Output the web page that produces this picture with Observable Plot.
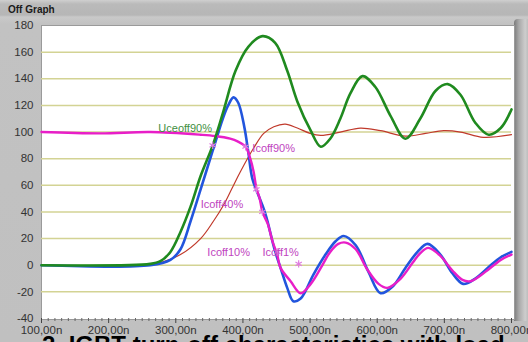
<!DOCTYPE html>
<html>
<head>
<meta charset="utf-8">
<script src="https://cdn.jsdelivr.net/npm/d3@7"></script>
<script src="https://cdn.jsdelivr.net/npm/@observablehq/plot@0.6"></script>
<style>
  html, body { margin: 0; padding: 0; width: 528px; height: 342px; overflow: hidden; }
  body { background: linear-gradient(to bottom, #cfcfcf 0px, #bababa 4px, #b6b6b6 15px, #c9c9c9 17px, #c2c2c2 24px, #c0c0c0 100%); position: relative; font-family: "Liberation Sans", Arial, sans-serif; }
  #title { position: absolute; left: 8px; top: 4px; font: bold 10px "Liberation Sans", Arial, sans-serif; color: #1a1a1a; }
  #bar { position: absolute; left: 514px; top: 19px; width: 14px; height: 302px; background: linear-gradient(to right, #7a7a7a, #a9a9a9 35%, #cdcdcd 80%, #bdbdbd); border-top-left-radius: 4px; }
  #chart { position: absolute; left: 0; top: 0; }
  #caption { position: absolute; left: 42px; top: 336px; font: bold 24px/18px "Liberation Sans", Arial, sans-serif; color: #000; white-space: nowrap; }
</style>
</head>
<body>
<div id="bar"></div>
<div id="chart"></div>
<div id="title">Off Graph</div>
<div id="caption">2. IGBT turn-off characteristics with load</div>
<script>
// ---- data (time in ns, value in %) ----
const uceT = [100, 262, 277, 292, 307, 322, 337, 355, 370, 389, 408, 429, 448, 466, 481, 501, 516, 530, 545, 560, 578, 597, 620, 642, 664, 687, 705, 724, 746, 766, 784, 800];
const uceV = [0, 1, 3, 10, 25, 44, 67, 90, 114, 146, 164, 172, 167, 146, 123, 101, 89, 95, 110, 129, 142, 134, 112, 95, 110, 131, 136, 128, 107, 98, 103, 117];

const icBT = [100, 262, 292, 307, 322, 337, 355, 370, 378, 386, 393, 402, 408, 414, 422, 429, 435, 441, 447, 456, 466, 475, 486, 505, 523, 538, 550, 568, 587, 605, 623, 642, 660, 675, 694, 712, 728, 746, 769, 784, 800];
const icBV = [0, 0, 4, 12, 33, 57, 86, 110, 120, 126, 122, 104, 85, 65, 54, 45, 36, 24, 12, -2, -17, -27, -25, -7, 8, 18, 22, 15, -5, -21, -16, -2, 10, 16, 8, -6, -14, -10, 0, 6, 10];

const icT = [100, 188, 262, 337, 359, 381, 392, 404, 411, 416, 420, 425, 429, 437, 444, 451, 456, 471, 486, 501, 516, 530, 542, 553, 568, 585, 602, 615, 635, 653, 664, 676, 694, 712, 727, 739, 761, 784, 800];
const icV = [100, 99, 100, 98, 97, 95, 93, 89, 80, 70, 58, 50, 40, 31, 18, 8, -2, -12, -21, -14, -2, 10, 16, 17, 12, -3, -14, -17, -10, 2, 9, 13, 7, -4, -11, -12, -5, 4, 8];

const refT = [100, 247, 277, 307, 337, 356, 371, 384, 396, 416, 431, 446, 463, 481, 500, 516, 545, 575, 605, 642, 672, 699, 724, 758, 800];
const refV = [0, 0, 2, 8, 20, 33, 45, 58, 70, 88, 99, 104, 106, 103, 99, 97.5, 100, 103, 101, 97, 99, 101, 100, 96, 98];

const markT = [355, 404, 420, 429, 451, 483];
const markV = [90, 89, 57, 40, 10, 1];

const labelText = ["Uceoff90%", "Icoff90%", "Icoff40%", "Icoff10%", "Icoff1%"];
const labelT = [274, 414, 337, 347, 429];
const labelV = [102.6, 87.6, 45.6, 9.5, 9.5];
const labelColor = ["#3f8f3f", "#c044c0", "#c044c0", "#c044c0", "#c044c0"];

const yTicks = [-40, -20, 0, 20, 40, 60, 80, 100, 120, 140, 160, 180];
const gridY = [-20, 0, 20, 40, 60, 80, 100, 120, 140, 160];
const xTicks = [100, 200, 300, 400, 500, 600, 700, 800];
const xMinor = d3.range(110, 800, 10).filter(d => d % 100 !== 0);

const toPts = (T, V) => T.map((t, i) => ({t, v: V[i]}));
const uce = toPts(uceT, uceV), icB = toPts(icBT, icBV), ic = toPts(icT, icV), ref = toPts(refT, refV);
const marks = toPts(markT, markV);
const labels = labelText.map((s, i) => ({s, t: labelT[i], v: labelV[i], c: labelColor[i]}));

const chart = Plot.plot({
  width: 528,
  height: 336,
  marginLeft: 41,
  marginRight: 17,
  marginTop: 25,
  marginBottom: 18,
  style: {background: "transparent", fontFamily: "Liberation Sans, Arial, sans-serif", fontSize: "11.5px", color: "#333"},
  x: {domain: [100, 800]},
  y: {domain: [-40, 180]},
  marks: [
    Plot.frame({fill: "white", stroke: "#9a9a9a", insetRight: -3, insetBottom: -1}),
    Plot.ruleY(gridY, {stroke: "#d3d394", strokeWidth: 1.5}),
    Plot.line(ref, {x: "t", y: "v", stroke: "#c0392b", strokeWidth: 1.2, curve: "catmull-rom"}),
    Plot.line(icB, {x: "t", y: "v", stroke: "#2255dd", strokeWidth: 2.6, curve: "catmull-rom"}),
    Plot.line(ic, {x: "t", y: "v", stroke: "#e81ec8", strokeWidth: 2.4, curve: "catmull-rom"}),
    Plot.line(uce, {x: "t", y: "v", stroke: "#1f8a1f", strokeWidth: 2.6, curve: "catmull-rom"}),
    Plot.dot(marks, {x: "t", y: "v", symbol: "asterisk", r: 3.5, stroke: "#e07ce0", strokeWidth: 1.2}),
    Plot.text(labels, {x: "t", y: "v", text: "s", fill: "c", textAnchor: "start", fontSize: 11, fontFamily: "Liberation Sans, Arial, sans-serif"}),
    Plot.axisY(yTicks, {label: null, tickSize: 0, tickPadding: 8, tickFormat: d => String(d), fill: "#333", fontSize: 11.5}),
    Plot.axisX(xMinor, {label: null, tickSize: 3, stroke: "#666", fill: "none"}),
    Plot.axisX(xTicks, {label: null, tickSize: 5, tickPadding: 2, stroke: "#444", fill: "#333", fontSize: 11.5, tickFormat: d => d.toFixed(2).replace(".", ",") + "n"})
  ]
});
document.getElementById("chart").appendChild(chart);
</script>
</body>
</html>
